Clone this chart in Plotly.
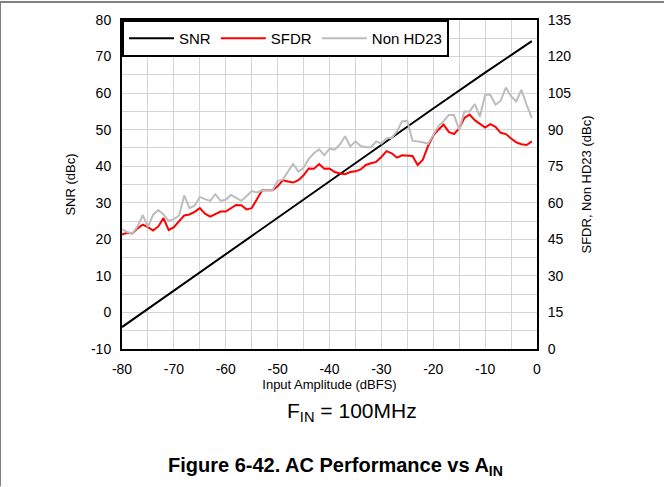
import plotly.graph_objects as go

# Input amplitude grid (dBFS) for the measured SFDR / Non HD23 sweeps
amp_dbfs = [-80, -79, -78, -77, -76, -75, -74, -73, -72, -71,
            -70, -69, -68, -67, -66, -65, -64, -63, -62, -61,
            -60, -59, -58, -57, -56, -55, -54, -53, -52, -51,
            -50, -49, -48, -47, -46, -45, -44, -43, -42, -41,
            -40, -39, -38, -37, -36, -35, -34, -33, -32, -31,
            -30, -29, -28, -27, -26, -25, -24, -23, -22, -21,
            -20, -19, -18, -17, -16, -15, -14, -13, -12, -11,
            -10, -9, -8, -7, -6, -5, -4, -3, -2, -1]

# SFDR (dBc, right axis)
sfdr = [47.0, 47.7, 47.4, 49.5, 51.0, 50.0, 48.6, 50.3, 53.7, 48.8,
        50.0, 52.5, 54.8, 55.2, 56.3, 57.8, 55.5, 54.3, 55.2, 56.4,
        56.4, 57.6, 59.1, 59.0, 57.3, 57.8, 61.5, 65.1, 65.1, 65.1,
        66.8, 69.2, 68.7, 68.3, 69.3, 71.3, 74.1, 74.0, 75.9, 74.0,
        74.1, 72.6, 72.0, 71.7, 72.6, 72.9, 73.7, 75.5, 76.2, 76.8,
        78.8, 81.2, 80.3, 78.5, 79.5, 79.2, 79.2, 75.5, 77.7, 83.3,
        87.6, 90.0, 92.1, 89.1, 88.2, 90.5, 94.8, 96.2, 93.9, 92.4,
        90.9, 92.3, 91.2, 88.7, 88.2, 86.4, 84.8, 84.0, 83.7, 85.2]

# Non HD23 (dBc, right axis)
non_hd23 = [49.2, 48.0, 47.4, 50.3, 54.9, 50.1, 55.1, 57.0, 55.2, 52.5,
            53.3, 54.8, 63.0, 57.8, 58.8, 62.4, 61.5, 60.8, 63.5, 60.8,
            61.2, 63.2, 62.0, 60.8, 62.7, 64.8, 64.2, 65.1, 65.1, 65.1,
            69.0, 69.5, 72.8, 75.9, 72.8, 74.3, 78.0, 80.3, 81.9, 79.5,
            82.2, 81.8, 83.9, 87.3, 83.1, 85.2, 83.3, 82.8, 82.8, 85.2,
            84.3, 86.4, 86.7, 89.3, 93.5, 93.6, 85.5, 85.2, 84.8, 84.2,
            87.8, 91.5, 93.5, 96.0, 96.0, 90.0, 97.5, 97.5, 100.5, 95.4,
            104.3, 104.3, 100.2, 101.9, 107.3, 103.7, 101.6, 106.4, 100.2, 94.8]

# SNR (dBc, left axis)
snr_amp = [-80, -70, -60, -50, -40, -30, -20, -10, -1]
snr = [-4.0, 6.0, 16.0, 26.0, 36.0, 45.9, 55.8, 65.6, 74.2]

# Axis ticks (labels use a plain hyphen for negatives)
x_ticks = [-80, -70, -60, -50, -40, -30, -20, -10, 0]
x_tick_text = ["-80", "-70", "-60", "-50", "-40", "-30", "-20", "-10", "0"]
y_left_ticks = [-10, 0, 10, 20, 30, 40, 50, 60, 70, 80]
y_left_text = ["-10", "0", "10", "20", "30", "40", "50", "60", "70", "80"]
y_right_ticks = [0, 15, 30, 45, 60, 75, 90, 105, 120, 135]

FONT = "Liberation Sans, Arial, sans-serif"
GRID = "#d4d4d4"

fig = go.Figure()
fig.add_trace(go.Scatter(x=snr_amp, y=snr, mode="lines", name="SNR",
                         line=dict(color="black", width=2)))
fig.add_trace(go.Scatter(x=amp_dbfs, y=sfdr, mode="lines", name="SFDR", yaxis="y2",
                         line=dict(color="#ff0000", width=2)))
fig.add_trace(go.Scatter(x=amp_dbfs, y=non_hd23, mode="lines", name="Non HD23", yaxis="y2",
                         line=dict(color="#bdbdbd", width=2)))

fig.update_layout(
    width=664, height=487,
    margin=dict(l=122, r=127, t=18, b=138),
    paper_bgcolor="white", plot_bgcolor="white",
    font=dict(family=FONT, size=13, color="black"),
    showlegend=True,
    legend=dict(orientation="h", x=0, y=1, xanchor="left", yanchor="top",
                bgcolor="white", bordercolor="black", borderwidth=2,
                font=dict(family=FONT, size=15, color="black"),
                itemwidth=45, traceorder="normal"),
    xaxis=dict(range=[-80, 0], tickvals=x_ticks, ticktext=x_tick_text,
               showgrid=True, gridcolor=GRID, gridwidth=1,
               minor=dict(dtick=5, showgrid=True, gridcolor=GRID, gridwidth=1),
               showline=True, linecolor="black", linewidth=2, mirror=True,
               ticks="", ticklabelstandoff=6, zeroline=False,
               tickfont=dict(family=FONT, size=14),
               title=dict(text="Input Amplitude (dBFS)", standoff=0,
                          font=dict(family=FONT, size=13))),
    yaxis=dict(range=[-10, 80], tickvals=y_left_ticks, ticktext=y_left_text,
               showgrid=True, gridcolor=GRID, gridwidth=1,
               minor=dict(dtick=5, showgrid=True, gridcolor=GRID, gridwidth=1),
               showline=True, linecolor="black", linewidth=2, mirror=True,
               ticks="", ticklabelstandoff=6, zeroline=False,
               tickfont=dict(family=FONT, size=14),
               title=dict(text="SNR (dBc)", standoff=12, font=dict(family=FONT, size=13))),
    yaxis2=dict(range=[0, 135], tickvals=y_right_ticks, overlaying="y", side="right",
                showgrid=False, showline=True, linecolor="black", linewidth=2,
                ticks="", ticklabelstandoff=6, zeroline=False,
                tickfont=dict(family=FONT, size=14),
                title=dict(text="SFDR, Non HD23 (dBc)", standoff=12,
                           font=dict(family=FONT, size=13))),
)

# Page frame lines (top and left edges)
fig.add_shape(type="line", xref="paper", yref="paper",
              x0=-122 / 415, x1=(664 - 122) / 415, y0=1 + 18 / 331, y1=1 + 18 / 331,
              line=dict(color="#808080", width=2))
fig.add_shape(type="line", xref="paper", yref="paper",
              x0=-122 / 415, x1=-122 / 415, y0=1 + 18 / 331, y1=-138 / 331,
              line=dict(color="#808080", width=2))

fig.add_annotation(text="F<sub>IN</sub> = 100MHz", xref="paper", yref="paper",
                   x=(352 - 122) / 415, y=-(412 - 349) / 331, xanchor="center", yanchor="middle",
                   showarrow=False, font=dict(family=FONT, size=21, color="black"))
fig.add_annotation(text="<b>Figure 6-42. AC Performance vs A<sub>IN</sub></b>", xref="paper", yref="paper",
                   x=(335 - 122) / 415, y=-(467 - 349) / 331, xanchor="center", yanchor="middle",
                   showarrow=False, font=dict(family=FONT, size=20, color="black"))

fig.write_html("out.html")
